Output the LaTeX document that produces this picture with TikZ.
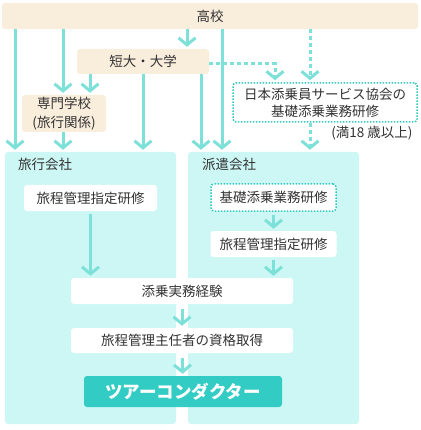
\documentclass[tikz,border=0pt]{standalone}
\usepackage{fontspec}
\usetikzlibrary{arrows.meta}
\newfontfamily\jp{Noto Sans CJK JP}
\definecolor{cream}{HTML}{F9EDDC}
\definecolor{pale}{HTML}{CCF7F4}
\definecolor{arrowc}{HTML}{7DE0D9}
\definecolor{teal}{HTML}{33CCC4}
\definecolor{dotc}{HTML}{33C9C0}
\definecolor{ink}{HTML}{333333}
\newcommand{\txt}{\fontsize{13.5}{17}\selectfont}
\begin{document}
\begin{tikzpicture}[x=1pt, y=-1pt,
    base/.style={rounded corners=3pt, inner sep=0pt, font=\jp\txt, text=ink, align=center},
    creambox/.style={base, fill=cream},
    whitebox/.style={base, fill=white},
    company/.style={rounded corners=3pt, fill=pale, minimum width=171pt, minimum height=272pt},
    arr/.style={draw=arrowc, line width=3pt, shorten >=2pt, -{Straight Barb[length=7pt,width=17pt]}},
    dots/.style={arr, dash pattern=on 4pt off 3pt}]
    \useasboundingbox (0,0) rectangle (420,430);
    % schools
    \node [creambox, minimum width=416pt, minimum height=26pt] (hs) at (210,16) {高校};
    \node [creambox, minimum width=132pt, minimum height=25pt] (univ) at (143,61.5) {短大・大学};
    \node [creambox, minimum width=84pt, minimum height=37pt,
        font=\jp\fontsize{13.5}{19}\selectfont] (senmon) at (64,113.5) {専門学校\\(旅行関係)};
    \node [whitebox, draw=dotc, line width=1.5pt, dash pattern=on 1.5pt off 1.5pt,
        minimum width=184pt, minimum height=39pt] (jata) at (325,102.5)
        {日本添乗員サービス協会の\\基礎添乗業務研修};
    \node [base, anchor=east] (age) at ([shift={(-5,10)}]jata.south east) {(満18 歳以上)};
    % companies
    \node [company] (ryoko) at (90.5,288) {};
    \node [company] (haken) at (273.5,288) {};
    \node [base, anchor=west] (ryokolbl) at ([shift={(13,13)}]ryoko.north west) {旅行会社};
    \node [base, anchor=west] (hakenlbl) at ([shift={(14,13)}]haken.north west) {派遣会社};
    \node [whitebox, minimum width=133pt, minimum height=26pt] (lk1) at (90.5,198) {旅程管理指定研修};
    \node [whitebox, draw=dotc, line width=1.5pt, dash pattern=on 1.5pt off 1.5pt,
        minimum width=125pt, minimum height=27pt] (kiso) at (273.5,197.5) {基礎添乗業務研修};
    \node [whitebox, minimum width=126pt, minimum height=26pt] (lk2) at (273.5,244) {旅程管理指定研修};
    \node [whitebox, minimum width=222pt, minimum height=26pt] (jitsumu) at (182,291) {添乗実務経験};
    \node [whitebox, minimum width=222pt, minimum height=25pt] (shunin) at (182,340.5) {旅程管理主任者の資格取得};
    \node [base, fill=teal, text=white, minimum width=198pt, minimum height=31pt,
        font=\jp\bfseries\fontsize{17.5}{20}\selectfont] (tc) at (183,391.5) {ツアーコンダクター};
    % columns
    \coordinate (c1) at (15,0);
    \coordinate (c2) at (63,0);
    \coordinate (c3) at (90,0);
    \coordinate (c4) at (143,0);
    \coordinate (c5) at (201,0);
    \coordinate (c6) at (222,0);
    \coordinate (c7) at (275,0);
    \coordinate (c8) at (310,0);
    \coordinate (c9) at (187,0);
    % connectors
    \draw [arr] (hs.south -| c1) -- (ryoko.north -| c1);
    \draw [arr] (hs.south -| c2) -- (senmon.north -| c2);
    \draw [arr] (senmon.south -| c2) -- (ryoko.north -| c2);
    \draw [arr] (hs.south -| c9) -- (univ.north -| c9);
    \draw [arr] (univ.south -| c3) -- (senmon.north -| c3);
    \draw [arr] (univ.south -| c4) -- (ryoko.north -| c4);
    \draw [arr] (univ.south -| c5) -- (haken.north -| c5);
    \draw [arr] (hs.south -| c6) -- (haken.north -| c6);
    \draw [dots] ([yshift=-2.5pt]univ.east) -| (jata.north -| c7);
    \draw [dots] (hs.south -| c8) -- (jata.north -| c8);
    \draw [dots] (jata.south -| c8) -- (haken.north -| c8);
    \draw [arr, shorten <=3pt] (lk1) -- (jitsumu.north -| lk1);
    \draw [arr, shorten <=3pt] (kiso) -- (lk2);
    \draw [arr, shorten <=3pt] (lk2) -- (jitsumu.north -| lk2);
    \draw [arr, shorten <=5pt] (jitsumu) -- (shunin);
    \draw [arr, shorten <=5pt] (shunin) -- (tc);
\end{tikzpicture}
\end{document}
